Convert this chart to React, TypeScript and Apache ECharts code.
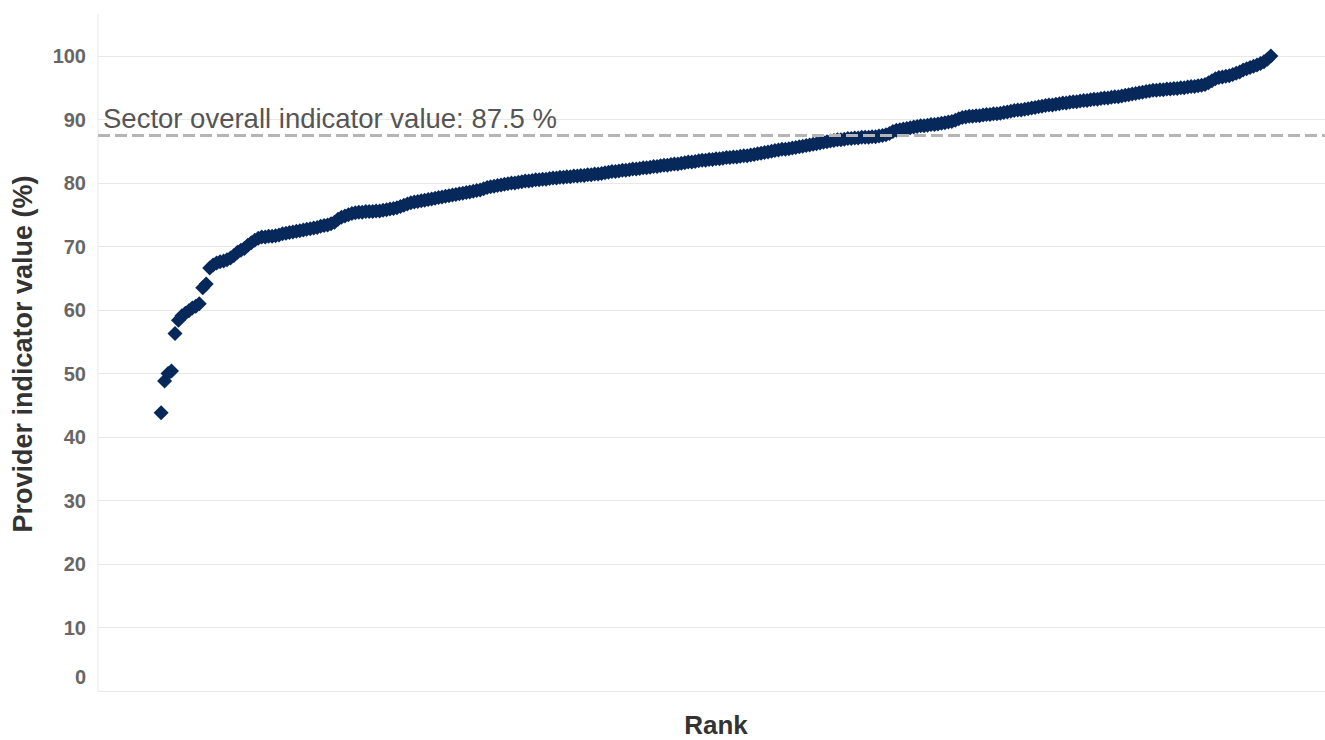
import React, { useEffect, useRef } from "react";
import * as echarts from "echarts";

// Provider indicator values (%), sorted by rank (ascending)
const values: number[] = [
  43.8, 48.8, 50.0, 50.4, 56.3, 58.4, 59.1, 59.5, 59.9, 60.3,
  60.6, 61.0, 63.5, 64.1, 66.6, 67.1, 67.4, 67.6, 67.7, 67.9,
  68.2, 68.6, 69.1, 69.4, 69.7, 70.2, 70.6, 71.0, 71.3, 71.5,
  71.5, 71.6, 71.6, 71.7, 71.8, 72.0, 72.1, 72.2, 72.3, 72.4,
  72.5, 72.6, 72.7, 72.8, 72.9, 73.0, 73.2, 73.3, 73.4, 73.6,
  73.8, 74.3, 74.6, 74.8, 75.0, 75.2, 75.3, 75.4, 75.4, 75.5,
  75.5, 75.5, 75.6, 75.6, 75.7, 75.8, 75.9, 76.0, 76.1, 76.3,
  76.5, 76.7, 76.9, 77.0, 77.1, 77.2, 77.3, 77.4, 77.5, 77.6,
  77.7, 77.8, 77.9, 78.0, 78.1, 78.2, 78.3, 78.4, 78.5, 78.6,
  78.7, 78.8, 78.9, 79.1, 79.3, 79.4, 79.5, 79.6, 79.7, 79.8,
  79.9, 80.0, 80.0, 80.1, 80.2, 80.3, 80.3, 80.4, 80.5, 80.5,
  80.6, 80.6, 80.7, 80.8, 80.8, 80.9, 80.9, 81.0, 81.0, 81.1,
  81.1, 81.2, 81.2, 81.3, 81.3, 81.4, 81.4, 81.5, 81.6, 81.7,
  81.8, 81.8, 81.9, 82.0, 82.0, 82.1, 82.2, 82.2, 82.3, 82.4,
  82.4, 82.5, 82.6, 82.6, 82.7, 82.8, 82.8, 82.9, 83.0, 83.0,
  83.1, 83.2, 83.3, 83.3, 83.4, 83.5, 83.6, 83.6, 83.7, 83.7,
  83.8, 83.8, 83.9, 84.0, 84.0, 84.1, 84.1, 84.2, 84.3, 84.3,
  84.4, 84.5, 84.6, 84.7, 84.8, 84.9, 85.0, 85.1, 85.2, 85.3,
  85.3, 85.4, 85.5, 85.6, 85.7, 85.8, 85.9, 86.0, 86.1, 86.2,
  86.3, 86.4, 86.5, 86.6, 86.7, 86.8, 86.8, 86.9, 87.0, 87.0,
  87.1, 87.1, 87.2, 87.2, 87.2, 87.3, 87.3, 87.4, 87.5, 87.6,
  87.8, 88.1, 88.3, 88.4, 88.5, 88.6, 88.7, 88.8, 88.9, 89.0,
  89.0, 89.1, 89.2, 89.2, 89.3, 89.4, 89.5, 89.6, 89.7, 89.9,
  90.1, 90.3, 90.4, 90.5, 90.5, 90.6, 90.6, 90.7, 90.8, 90.8,
  90.9, 90.9, 91.0, 91.1, 91.2, 91.3, 91.4, 91.5, 91.5, 91.6,
  91.7, 91.8, 91.9, 92.0, 92.1, 92.2, 92.3, 92.3, 92.4, 92.5,
  92.6, 92.6, 92.7, 92.8, 92.8, 92.9, 93.0, 93.0, 93.1, 93.2,
  93.2, 93.3, 93.4, 93.4, 93.5, 93.6, 93.6, 93.7, 93.8, 93.9,
  94.0, 94.1, 94.2, 94.3, 94.4, 94.5, 94.6, 94.6, 94.7, 94.7,
  94.8, 94.8, 94.9, 94.9, 95.0, 95.0, 95.1, 95.2, 95.2, 95.3,
  95.4, 95.5, 95.8, 96.1, 96.4, 96.6, 96.7, 96.8, 96.9, 97.1,
  97.3, 97.5, 97.8, 98.0, 98.2, 98.4, 98.6, 98.8, 99.1, 99.5,
  100.0,
];

const sectorValue = 87.5;
const sectorLabel = "Sector overall indicator value: 87.5 %";
const yAxisTitle = "Provider indicator value (%)";
const xAxisTitle = "Rank";

const FONT = "'Liberation Sans', Arial, Helvetica, sans-serif";

export default function App() {
  const ref = useRef<HTMLDivElement>(null);

  useEffect(() => {
    if (!ref.current) return;
    const chart = echarts.init(ref.current, undefined, { renderer: "svg" });
    const points = values.map((v, i) => [i + 1, v]);

    chart.setOption({
      animation: false,
      backgroundColor: "#ffffff",
      grid: { left: 98, right: 0, top: 56, bottom: 49 },
      xAxis: {
        type: "value",
        min: -17.2,
        max: 336.6,
        axisLine: { show: false },
        axisTick: { show: false },
        axisLabel: { show: false },
        splitLine: { show: false },
      },
      yAxis: {
        type: "value",
        min: 0,
        max: 100,
        interval: 10,
        axisLine: { show: false },
        axisTick: {
          show: true,
          length: 8,
          lineStyle: { color: "#e8e8e8", width: 1 },
        },
        axisLabel: {
          margin: 12,
          color: "#666666",
          fontSize: 20,
          fontWeight: "bold",
          fontFamily: FONT,
          formatter: (v: number) => (v === 0 ? "{zero|0}" : String(v)),
          rich: {
            zero: {
              color: "#666666",
              fontSize: 20,
              fontWeight: "bold",
              fontFamily: FONT,
              padding: [0, 0, 28, 0],
            },
          },
        },
        splitLine: { show: true, lineStyle: { color: "#e8e8e8", width: 1 } },
      },
      series: [
        {
          type: "scatter",
          data: points,
          symbol: "diamond",
          symbolSize: 15,
          itemStyle: { color: "#06285a", opacity: 1 },
          z: 2,
        },
        {
          type: "line",
          data: [],
          z: 5,
          markLine: {
            silent: true,
            symbol: ["none", "none"],
            label: { show: false },
            lineStyle: { type: [12, 5], color: "#b5b5b5", width: 3 },
            data: [{ yAxis: sectorValue }],
          },
        },
      ],
      graphic: [
        {
          type: "line",
          shape: { x1: 98, y1: 14, x2: 98, y2: 691 },
          style: { stroke: "#e8e8e8", lineWidth: 1 },
          z: 0,
        },
        {
          type: "text",
          x: 103,
          y: 118,
          z: 10,
          style: {
            text: sectorLabel,
            fill: "#555555",
            fontSize: 27.5,
            fontFamily: FONT,
            align: "left",
            verticalAlign: "middle",
          },
        },
        {
          type: "text",
          x: 23,
          y: 354,
          rotation: Math.PI / 2,
          style: {
            text: yAxisTitle,
            fill: "#333333",
            fontSize: 27,
            fontWeight: "bold",
            fontFamily: FONT,
            align: "center",
            verticalAlign: "middle",
          },
        },
        {
          type: "text",
          x: 716,
          y: 725,
          style: {
            text: xAxisTitle,
            fill: "#333333",
            fontSize: 26,
            fontWeight: "bold",
            fontFamily: FONT,
            align: "center",
            verticalAlign: "middle",
          },
        },
      ],
    });

    return () => chart.dispose();
  }, []);

  return (
    <div
      ref={ref}
      style={{ position: "fixed", left: 0, top: 0, width: 1325, height: 740, background: "#fff" }}
    />
  );
}
